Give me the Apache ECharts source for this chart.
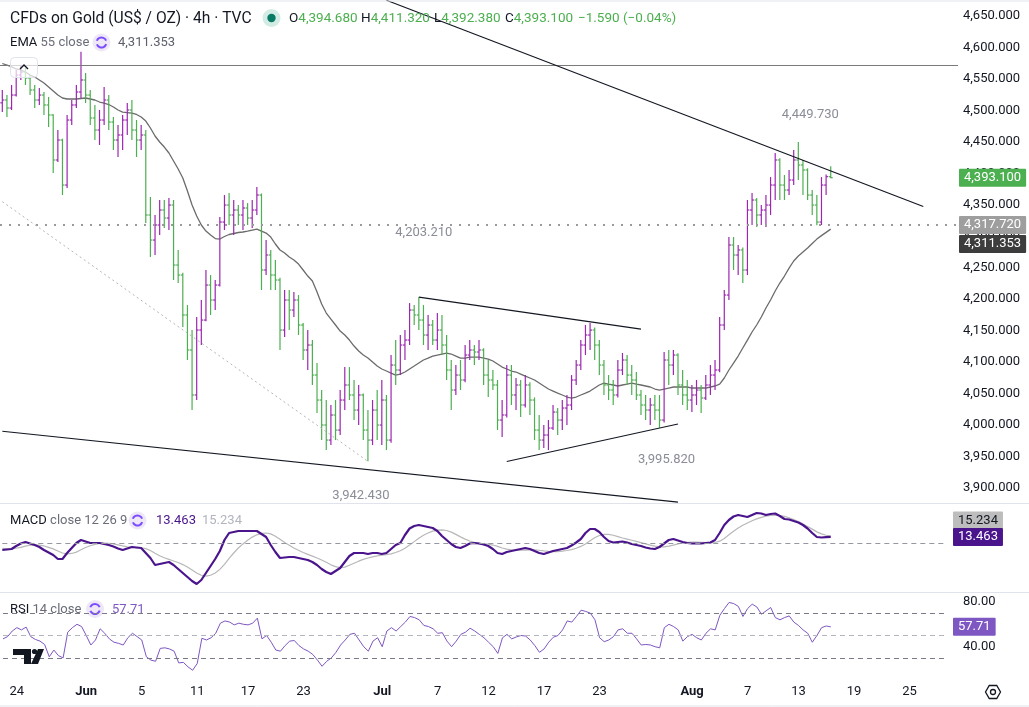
<!DOCTYPE html>
<html>
<head>
<meta charset="utf-8">
<script src="https://cdn.jsdelivr.net/npm/echarts@6/dist/echarts.min.js"></script>
<style>
html, body { margin: 0; padding: 0; background: #fff; }
#chart { width: 1029px; height: 707px; }
</style>
</head>
<body>
<div id="chart"></div>
<script>
// 4h bars: [open, high, low, close]
var bars = [
  [4512.0,4532.4,4497.4,4516.5],[4516.5,4524.4,4489.5,4503.8],[4503.8,4540.3,4500.6,4524.4],[4524.4,4564.2,4522.0,4556.2],
  [4556.2,4572.1,4548.3,4561.0],[4561.0,4567.4,4540.3,4551.5],[4551.5,4556.2,4524.4,4532.4],[4532.4,4540.3,4503.8,4516.5],
  [4516.5,4535.6,4508.6,4524.4],[4524.4,4529.2,4492.7,4508.6],[4508.6,4521.3,4473.6,4492.7],[4492.7,4494.0,4400.5,4421.2],
  [4421.2,4468.8,4418.0,4452.9],[4452.9,4455.0,4365.5,4381.4],[4381.4,4492.7,4376.7,4484.7],[4484.7,4516.5,4476.8,4508.6],
  [4508.6,4540.3,4503.8,4529.2],[4529.2,4593.0,4519.7,4548.3],[4548.3,4559.4,4511.7,4524.4],[4524.4,4532.4,4476.8,4487.9],
  [4487.9,4508.6,4452.9,4468.8],[4468.8,4500.6,4445.0,4484.7],[4484.7,4537.2,4476.8,4516.5],[4516.5,4524.4,4468.8,4481.5],
  [4481.5,4489.5,4437.0,4452.9],[4452.9,4476.8,4425.9,4460.9],[4460.9,4492.7,4437.0,4484.7],[4484.7,4511.7,4460.9,4500.6],
  [4500.6,4516.5,4452.9,4468.8],[4468.8,4484.7,4425.9,4452.9],[4452.9,4476.8,4437.0,4460.9],[4460.9,4468.8,4321.0,4333.8],
  [4333.8,4362.4,4267.0,4294.0],[4294.0,4333.8,4270.2,4317.9],[4317.9,4357.6,4302.0,4341.7],[4341.7,4357.6,4313.1,4329.0],
  [4329.0,4360.8,4309.9,4349.6],[4349.6,4357.6,4230.5,4254.3],[4254.3,4278.2,4225.7,4238.4],[4238.4,4242.0,4155.8,4174.9],
  [4174.9,4190.7,4103.4,4119.3],[4119.3,4151.0,4023.9,4047.8],[4047.8,4171.7,4039.8,4151.0],[4151.0,4198.7,4127.2,4166.9],
  [4166.9,4246.4,4165.0,4222.5],[4222.5,4238.4,4174.9,4198.7],[4198.7,4230.5,4182.8,4222.5],[4222.5,4330.6,4220.0,4322.6],
  [4322.6,4365.5,4309.9,4349.6],[4349.6,4368.7,4317.9,4333.8],[4333.8,4357.6,4302.0,4341.7],[4341.7,4349.6,4317.9,4333.8],
  [4333.8,4357.6,4309.9,4344.9],[4344.9,4352.8,4317.9,4329.0],[4329.0,4357.6,4313.1,4341.7],[4341.7,4378.3,4333.8,4365.5],
  [4365.5,4368.0,4214.6,4246.4],[4246.4,4294.0,4238.4,4270.2],[4270.2,4278.2,4214.6,4238.4],[4238.4,4262.3,4214.6,4230.5],
  [4230.5,4234.0,4119.3,4151.0],[4151.0,4214.6,4139.9,4198.7],[4198.7,4214.6,4151.0,4182.8],[4182.8,4211.4,4171.7,4198.7],
  [4198.7,4206.6,4143.1,4159.0],[4159.0,4162.1,4103.4,4119.3],[4119.3,4151.0,4087.5,4127.2],[4127.2,4135.1,4063.7,4079.5],
  [4079.5,4098.6,4019.1,4039.8],[4039.8,4055.7,3976.2,4000.1],[4000.1,4039.8,3960.3,3976.2],[3976.2,4031.9,3968.2,4016.0],
  [4016.0,4039.8,3976.2,3992.1],[3992.1,4055.7,3984.2,4039.8],[4039.8,4092.2,4023.9,4063.7],[4063.7,4092.2,4039.8,4047.8],
  [4047.8,4071.6,4008.0,4023.9],[4023.9,4063.7,4000.1,4047.8],[4047.8,4050.0,3976.2,3992.1],[3992.1,4023.9,3942.4,3976.2],
  [3976.2,4039.8,3968.2,4023.9],[4023.9,4055.7,3976.2,4000.1],[4000.1,4071.6,3968.2,4039.8],[4039.8,4047.8,3960.3,3976.2],
  [3976.2,4111.3,3972.0,4095.4],[4095.4,4135.1,4063.7,4087.5],[4087.5,4143.1,4079.5,4127.2],[4127.2,4151.0,4103.4,4135.1],
  [4135.1,4193.9,4127.2,4182.8],[4182.8,4190.7,4159.0,4174.9],[4174.9,4203.2,4151.0,4166.9],[4166.9,4190.7,4127.2,4143.1],
  [4143.1,4174.9,4119.3,4159.0],[4159.0,4166.9,4127.2,4135.1],[4135.1,4178.0,4119.3,4151.0],[4151.0,4174.9,4111.3,4127.2],
  [4127.2,4143.1,4071.6,4087.5],[4087.5,4103.4,4023.9,4055.7],[4055.7,4095.4,4047.8,4079.5],[4079.5,4103.4,4055.7,4071.6],
  [4071.6,4127.2,4068.0,4111.3],[4111.3,4135.1,4103.4,4119.3],[4119.3,4127.2,4095.4,4116.1],[4116.1,4135.1,4103.4,4119.3],
  [4119.3,4122.0,4063.7,4079.5],[4079.5,4103.4,4044.6,4071.6],[4071.6,4087.5,4055.7,4063.7],[4063.7,4071.6,3992.1,4008.0],
  [4008.0,4039.8,3981.0,4016.0],[4016.0,4095.4,4012.0,4079.5],[4079.5,4095.4,4031.9,4047.8],[4047.8,4074.8,4023.9,4063.7],
  [4063.7,4071.6,4012.8,4031.9],[4031.9,4079.5,4028.0,4063.7],[4063.7,4068.0,4016.0,4039.8],[4039.8,4044.0,3976.2,3992.1],
  [3992.1,4016.0,3960.3,3976.2],[3976.2,4000.1,3963.5,3984.2],[3984.2,4008.0,3960.3,3995.3],[3995.3,4031.9,3992.1,4020.7],
  [4020.7,4027.1,3984.2,4008.0],[4008.0,4039.8,3992.1,4027.1],[4027.1,4047.8,4000.1,4031.9],[4031.9,4079.5,4023.9,4071.6],
  [4071.6,4103.4,4063.7,4095.4],[4095.4,4135.1,4087.5,4127.2],[4127.2,4159.0,4111.3,4143.1],[4143.1,4162.1,4119.3,4151.0],
  [4151.0,4155.0,4103.4,4127.2],[4127.2,4135.1,4079.5,4095.4],[4095.4,4103.4,4047.8,4063.7],[4063.7,4079.5,4039.8,4055.7],
  [4055.7,4071.6,4031.9,4047.8],[4047.8,4103.4,4044.0,4087.5],[4087.5,4114.5,4079.5,4103.4],[4103.4,4111.3,4063.7,4079.5],
  [4079.5,4095.4,4047.8,4071.6],[4071.6,4084.3,4039.8,4047.8],[4047.8,4055.7,4016.0,4031.9],[4031.9,4047.8,4008.0,4023.9],
  [4023.9,4043.0,4000.1,4031.9],[4031.9,4047.8,4008.0,4023.9],[4023.9,4047.8,3995.8,4008.0],[4008.0,4116.1,4004.0,4103.4],
  [4103.4,4119.3,4063.7,4095.4],[4095.4,4119.3,4079.5,4111.3],[4111.3,4114.0,4047.8,4063.7],[4063.7,4087.5,4031.9,4047.8],
  [4047.8,4071.6,4023.9,4039.8],[4039.8,4063.7,4020.7,4047.8],[4047.8,4071.6,4031.9,4055.7],[4055.7,4063.7,4019.1,4043.0],
  [4043.0,4079.5,4039.8,4063.7],[4063.7,4095.4,4047.8,4079.5],[4079.5,4103.4,4055.7,4087.5],[4087.5,4171.7,4084.0,4159.0],
  [4159.0,4214.6,4151.0,4206.6],[4206.6,4298.8,4198.7,4286.1],[4286.1,4298.8,4246.4,4270.2],[4270.2,4286.1,4238.4,4278.2],
  [4278.2,4282.0,4225.7,4246.4],[4246.4,4357.6,4238.4,4341.7],[4341.7,4368.7,4317.9,4357.6],[4357.6,4361.0,4314.7,4333.8],
  [4333.8,4349.6,4317.9,4341.7],[4341.7,4365.5,4314.7,4349.6],[4349.6,4394.1,4333.8,4381.4],[4381.4,4432.3,4357.6,4421.2],
  [4421.2,4424.0,4357.6,4381.4],[4381.4,4397.3,4357.6,4373.5],[4373.5,4405.3,4365.5,4389.4],[4389.4,4437.0,4381.4,4421.2],
  [4421.2,4449.7,4389.4,4413.2],[4413.2,4421.2,4365.5,4405.3],[4405.3,4408.0,4357.6,4365.5],[4365.5,4373.5,4333.8,4349.6],
  [4349.6,4365.5,4317.7,4322.6],[4322.6,4394.1,4317.9,4381.4],[4381.4,4398.0,4365.5,4394.7],[4394.68,4411.32,4392.38,4393.1]
];

var ema55 = [
  4574.5,4572.1,4569.0,4565.8,4564.2,4561.0,4556.2,4553.0,4548.3,4543.5,
  4537.2,4530.8,4524.4,4519.7,4518.1,4518.1,4518.1,4518.9,4519.7,4518.1,
  4516.5,4513.3,4511.7,4509.3,4505.4,4500.6,4497.4,4496.6,4495.8,4493.5,
  4489.5,4483.1,4472.0,4459.3,4449.8,4441.8,4432.3,4419.6,4406.9,4392.6,
  4371.9,4349.6,4332.2,4317.9,4308.3,4302.0,4296.4,4295.6,4299.6,4302.8,
  4304.4,4306.0,4306.8,4308.3,4309.9,4311.5,4308.3,4305.1,4298.8,4287.7,
  4278.2,4273.4,4267.0,4262.3,4255.9,4246.4,4236.8,4228.9,4211.4,4192.3,
  4178.0,4168.5,4159.0,4149.4,4143.1,4135.1,4125.6,4117.7,4111.3,4106.5,
  4100.2,4093.8,4089.1,4085.9,4082.7,4079.5,4081.1,4084.3,4089.1,4093.8,
  4098.6,4103.4,4106.5,4109.7,4111.3,4112.9,4114.5,4112.9,4109.7,4106.5,
  4106.5,4108.1,4108.1,4108.1,4106.5,4104.9,4101.8,4097.0,4092.2,4089.1,
  4085.9,4084.3,4081.1,4077.9,4074.8,4071.6,4066.8,4062.0,4057.3,4054.1,
  4050.9,4047.8,4044.6,4043.0,4044.6,4047.8,4050.9,4054.1,4058.9,4063.7,
  4066.8,4065.2,4063.7,4062.1,4063.7,4065.2,4066.8,4065.2,4063.7,4062.1,
  4060.5,4057.3,4055.7,4057.3,4058.9,4060.5,4060.5,4060.5,4060.5,4058.9,
  4058.9,4058.9,4058.9,4060.5,4062.1,4065.2,4074.8,4087.5,4098.6,4109.7,
  4122.4,4135.1,4147.9,4159.0,4171.7,4186.0,4198.7,4213.0,4225.7,4236.8,
  4249.5,4260.7,4268.6,4275.0,4281.3,4288.5,4295.5,4301.0,4306.2,4311.353
];

var macd = [
  -15.4,-14.3,-13.2,-6.6,-1.1,2.2,-1.1,-4.4,-8.8,-15.4,
  -20.9,-26.4,-35.2,-35.2,-22,-11,0,6.6,3.3,0,
  0,0,-2.2,-4.4,-7.7,-12.1,-15.4,-12.1,-8.8,-9.9,
  -11,-22,-33,-48.4,-46.2,-44,-41.8,-48.4,-57.2,-66,
  -74.8,-83.6,-90.2,-81.4,-66,-50.6,-35.2,-17.6,6.6,22,
  24.2,26.4,26.4,26.4,26.4,26.4,19.8,13.2,-4.4,-19.8,
  -33,-31.9,-30.8,-30.8,-33,-35.2,-37.4,-41.8,-48.4,-57.2,
  -63.8,-68.2,-61.6,-55,-41.8,-28.6,-22,-22,-22,-24.2,
  -22,-22,-24.2,-22,-13.2,-4.4,0,17.6,31.9,37.4,
  39.6,37.4,35.2,33,26.4,15.4,6.6,-2.2,-8.8,-11,
  -6.6,-1.1,0,-1.1,-3.3,-6.6,-13.2,-22,-24.2,-19.8,
  -17.6,-15.4,-13.2,-11,-13.2,-17.6,-22,-24.2,-20.9,-17.6,
  -15.4,-13.2,-11,-5.5,1.1,8.8,22,30.8,30.8,24.2,
  13.2,4.4,1.1,2.2,3.3,1.1,-2.2,-4.4,-6.6,-9.9,
  -12.1,-13.2,-8.8,-1.1,6.6,8.8,5.5,2.2,0,-1.1,
  -1.1,-1.1,0,1.1,6.6,22,39.6,50.6,58.3,61.6,
  59.4,57.2,61.6,66,64.9,61.6,63.8,64.9,59.4,52.8,
  51.7,48.4,45.1,39.6,31.9,22,13.2,12.1,12.8,13.463
];

var signal = [
  -12,-12.5,-12.8,-11.5,-9.5,-7,-5,-4,-4.5,-6.5,
  -9.5,-13,-17.5,-22,-24,-23,-20,-15,-10,-6,
  -3,-1,0,-0.5,-2,-4,-6.5,-8.5,-9.5,-10,
  -10.5,-12.5,-16.5,-22.5,-28,-32.5,-36,-39.5,-43,-47.5,
  -53,-59.5,-66,-71,-73,-71,-66,-58,-47,-34,
  -22,-11,-2,6,13,18,21,22,20,15,
  8,1,-5,-11,-16,-21,-25,-29,-33,-37.5,
  -42.5,-48,-52,-54,-53,-49,-44.5,-40,-36,-33,
  -30.5,-28.5,-27,-25.5,-24,-21,-17,-11.5,-4.5,3,
  10.5,17,22,26,28.5,29,27.5,24,19,13.5,
  8.5,4.5,1.5,-0.5,-1.5,-2.5,-4.5,-7.5,-11,-13.5,
  -15,-16,-16,-15.5,-15,-15,-16,-17.5,-18.5,-19,
  -19,-18,-16.5,-14.5,-11.5,-7.5,-2,5,11.5,16.5,
  19,19,17,14,11,8.5,6,3.5,1,-2,
  -4.5,-7,-8.5,-8.5,-7,-4.5,-2,0,1.5,2,
  2,1.5,1,0.5,1,4,10,18,26,33,
  39,44,49,53,56.5,59,60.5,61,60.5,58.5,
  55.5,51.5,47,42,36.5,30.5,24.5,20,17,15.234
];

var rsi = [
  47,49,54,57,55,57.5,49,46.5,45,42,
  31,37,32,30,53,57,60,58,50,41.5,
  46,56,52,47,44,43,41.5,48,52,49,
  46,31,28,27,38.5,39,38,36,25.5,26,
  22,19,25,47.5,46,48,52,61,63,62,
  59.5,61,60,59.5,61,65.5,47,50,44,37,
  36,41,45,45.5,41,38,36,33,28,22.5,
  27,30,35,41.5,46,51,52,46,40,36,
  45,48,40,54,57,54,58,62,67,66,
  64,59,58,56,52,52.5,45,40,45,51,
  53,56.5,54,51,48,44,40,34,48,51,
  47,48.7,50,49.5,46,41,35,38,44,48.5,
  50,55,63,62,67,72.6,71.5,70,64,48,
  44.5,46,49,55,56,52,52,47,41.5,42,
  41.5,40,39,57,60,58,55,45,49,51,
  48,46,52,56,55,68,74,79.5,78.5,76,
  67,74,78,75.5,69,72,75,66,64,66,
  67.5,62,59,55,52,44,50,57,58.5,57.71
];

// time scale: bar slots including the empty future part, and the date ticks
var slotCount = 207;
var tickIdx = [3, 18, 30, 42, 53, 65, 82, 94, 105, 117, 129, 149, 161, 172, 184, 196];
var tickText = ['24', 'Jun', '5', '11', '17', '23', 'Jul', '7', '12', '17', '23', 'Aug', '7', '13', '19', '25'];
// price scale labels
var priceTicks = [3900, 3950, 4000, 4050, 4100, 4150, 4200, 4250, 4300, 4350, 4400, 4450, 4500, 4550, 4600, 4650];
var rsiTicks = [40, 80];

// last bar readout
var lastOHLC = [['O', '4,394.680'], ['H', '4,411.320'], ['L', '4,392.380'], ['C', '4,393.100']];
var lastChange = '\u22121.590 (\u22120.04%)';

// drawn trend lines [fromIdx, fromPrice, toIdx, toPrice]
var trendLines = [[83, 4674.9, 199, 4347.3], [0, 3990.2, 146, 3877.7], [90, 4203.2, 138, 4152.4], [109, 3942.1, 146, 4001.7]];
var dottedTrend = [0, 4355.0, 79, 3942.4];
var resistance = 4572;
var supportLevel = 4317.72;

// high / low notes [barIdx, price, text]
var notes = [[172, 4449.73, '4,449.730'], [90, 4203.21, '4,203.210'], [142, 3995.82, '3,995.820'], [79, 3942.43, '3,942.430']];
var noteShift = [[12, -27], [5, -64], [7, 32], [-7, 34]];

var F = 'Roboto, "Noto Sans", sans-serif';
var upColor = '#9c27b0', downColor = '#4caf50';

var slots = [];
for (var s = 0; s < slotCount; s++) slots.push(String(s));
var tickMap = {};
tickIdx.forEach(function (k, j) { tickMap[k] = tickText[j]; });

var ohlcData = bars.map(function (b, i) { return [i, b[0], b[1], b[2], b[3]]; });

function fmt(v, d) {
    var p = v.toFixed(d).split('.');
    p[0] = p[0].replace(/\B(?=(\d{3})+(?!\d))/g, ',');
    return p.join('.');
}

function renderBar(params, api) {
    var i = api.value(0);
    var o = api.coord([i, api.value(1)]);
    var h = api.coord([i, api.value(2)]);
    var l = api.coord([i, api.value(3)]);
    var c = api.coord([i, api.value(4)]);
    var col = api.value(4) >= api.value(1) ? upColor : downColor;
    var st = {stroke: col, lineWidth: 1.2};
    return {
        type: 'group',
        children: [
            {type: 'line', shape: {x1: h[0], y1: h[1], x2: l[0], y2: l[1]}, style: st},
            {type: 'line', shape: {x1: o[0] - 2, y1: o[1], x2: o[0], y2: o[1]}, style: st},
            {type: 'line', shape: {x1: c[0], y1: c[1], x2: c[0] + 2, y2: c[1]}, style: st}
        ]
    };
}

function segLine(a, style) {
    return [{coord: [a[0], a[1]], lineStyle: style}, {coord: [a[2], a[3]]}];
}

var blackLine = {color: '#131722', width: 1.2, type: 'solid'};
var priceMarks = [
    {yAxis: resistance, lineStyle: {color: '#7a7a7a', width: 1, type: 'solid'}},
    {yAxis: supportLevel, lineStyle: {color: '#9a9a9a', width: 2, type: [2, 7]}},
    segLine(dottedTrend, {color: '#b5b5b5', width: 1, type: [2, 3]})
];
trendLines.forEach(function (t) { priceMarks.push(segLine(t, blackLine)); });

var hiddenX = function (g) {
    return {type: 'category', gridIndex: g, data: slots, boundaryGap: true,
        axisLine: {show: false}, axisTick: {show: false}, axisLabel: {show: false}, splitLine: {show: false}};
};
var xBottom = hiddenX(2);
xBottom.axisLabel = {
    show: true, interval: 0, margin: 8, fontSize: 13, fontFamily: F, color: '#131722',
    formatter: function (v, idx) {
        var t = tickMap[idx];
        if (!t) return '';
        return /[A-Za-z]/.test(t) ? '{m|' + t + '}' : t;
    },
    rich: {m: {fontSize: 13, fontFamily: F, fontWeight: 'bold', color: '#131722'}}
};

var option = {
    animation: false,
    backgroundColor: '#ffffff',
    grid: [
        {left: 0, right: 71, top: 0, height: 503},
        {left: 0, right: 71, top: 504, height: 88},
        {left: 0, right: 71, top: 593, height: 84}
    ],
    xAxis: [hiddenX(0), hiddenX(1), xBottom],
    yAxis: [
        {
            gridIndex: 0, type: 'value', position: 'right', min: 3876.2, max: 4675.4,
            axisLine: {show: false}, axisTick: {show: false}, splitLine: {show: false},
            axisLabel: {
                margin: 5, fontSize: 13, fontFamily: F, color: '#131722',
                customValues: priceTicks,
                formatter: function (v) { return fmt(v, 3); }
            }
        },
        {gridIndex: 1, type: 'value', min: -107.8, max: 85.8, show: false, splitLine: {show: false}},
        {gridIndex: 2, type: 'value', min: 12.95, max: 87.95, show: false, splitLine: {show: false}}
    ],
    series: [
        {
            name: 'EMA 55', type: 'line', xAxisIndex: 0, yAxisIndex: 0, data: ema55,
            symbol: 'none', lineStyle: {color: '#6b6b6b', width: 1.3}, z: 2,
            markLine: {silent: true, symbol: ['none', 'none'], label: {show: false}, animation: false, data: priceMarks}
        },
        {
            name: 'Gold', type: 'custom', xAxisIndex: 0, yAxisIndex: 0, renderItem: renderBar,
            data: ohlcData, encode: {x: 0, y: [1, 2, 3, 4]}, z: 3
        },
        {
            name: 'Signal', type: 'line', xAxisIndex: 1, yAxisIndex: 1, data: signal,
            symbol: 'none', lineStyle: {color: '#b8b8b8', width: 1.2}, z: 2,
            markLine: {silent: true, symbol: ['none', 'none'], label: {show: false}, animation: false,
                data: [segLine([0, 0, 204, 0], {color: '#9598a1', width: 1, type: [5, 4]})]}
        },
        {
            name: 'MACD', type: 'line', xAxisIndex: 1, yAxisIndex: 1, data: macd,
            symbol: 'none', lineStyle: {color: '#4a148c', width: 2.2}, z: 3
        },
        {
            name: 'RSI', type: 'line', xAxisIndex: 2, yAxisIndex: 2, data: rsi,
            symbol: 'none', lineStyle: {color: '#7e57c2', width: 1}, z: 3,
            markLine: {silent: true, symbol: ['none', 'none'], label: {show: false}, animation: false,
                data: [
                    segLine([0, 70, 204, 70], {color: '#787b86', width: 1, type: [5, 4]}),
                    segLine([0, 50, 204, 50], {color: '#b2b5be', width: 1, type: [5, 4]}),
                    segLine([0, 30, 204, 30], {color: '#787b86', width: 1, type: [5, 4]})
                ]}
        }
    ]
};

var chart = echarts.init(document.getElementById('chart'));
chart.setOption(option);

// ---- overlay: legends, scale tags, notes ----
function refreshIcon(cx, cy) {
    return [
        {type: 'circle', shape: {cx: cx, cy: cy, r: 9}, style: {fill: '#ede7f6'}},
        {type: 'arc', shape: {cx: cx, cy: cy, r: 5, startAngle: 3.5, endAngle: 5.9}, style: {stroke: '#7c4dff', lineWidth: 2, fill: null}},
        {type: 'arc', shape: {cx: cx, cy: cy, r: 5, startAngle: 0.35, endAngle: 2.75}, style: {stroke: '#7c4dff', lineWidth: 2, fill: null}}
    ];
}
function txt(x, y, text, fill, size, extra) {
    var st = {text: text, fill: fill, fontSize: size || 13, fontFamily: F, verticalAlign: 'middle'};
    if (extra) for (var k in extra) st[k] = extra[k];
    return {type: 'text', x: x, y: y, z: 60, style: st};
}
var legendRich = {d: {fill: '#131722', fontSize: 13, fontFamily: F}, b: {fill: '#6a6d78', fontSize: 13, fontFamily: F}};

var gfx = [];
// pane separators and frame
[1, 503.5, 592.5, 706].forEach(function (yy) {
    gfx.push({type: 'line', shape: {x1: 0, y1: yy, x2: 1029, y2: yy}, style: {stroke: '#e0e3eb', lineWidth: 1}, z: 40});
});
// header
gfx.push(txt(10, 19, 'CFDs on Gold (US$ / OZ) · 4h · TVC', '#131722', 15.6));
gfx.push({type: 'circle', shape: {cx: 271.5, cy: 18, r: 9}, style: {fill: '#d3ebe5'}, z: 60});
gfx.push({type: 'circle', shape: {cx: 271.5, cy: 18, r: 4.2}, style: {fill: '#087a63'}, z: 61});
var ohlcX = [289, 361, 434, 505];
lastOHLC.forEach(function (q, j) {
    gfx.push(txt(ohlcX[j], 19, '{d|' + q[0] + '}{g|' + q[1] + '}', '#131722', 13, {
        rich: {d: {fill: '#131722', fontSize: 13.5, fontFamily: F}, g: {fill: '#4caf50', fontSize: 13.5, fontFamily: F}}
    }));
});
gfx.push(txt(578, 19, lastChange, '#4caf50', 13.5));

gfx.push(txt(10, 43, '{d|EMA} {b|55 close}', '#131722', 13, {rich: legendRich}));
gfx = gfx.concat(refreshIcon(101.5, 42.5));
gfx.push(txt(118, 43, '4,311.353', '#5d606b', 13));
gfx.push(txt(10, 521, '{d|MACD} {b|close 12 26 9}', '#131722', 13, {rich: legendRich}));
gfx = gfx.concat(refreshIcon(137.5, 520.5));
gfx.push(txt(156, 521, '13.463', '#4a148c', 13));
gfx.push(txt(202, 521, '15.234', '#b2b5be', 13));
gfx.push(txt(10, 609.5, '{d|RSI} {b|14 close}', '#131722', 13, {rich: legendRich}));
gfx = gfx.concat(refreshIcon(95, 609));
gfx.push(txt(112, 609.5, '57.71', '#7e57c2', 13));

// collapse button
gfx.push({type: 'rect', shape: {x: 10.5, y: 57.5, width: 27, height: 20, r: 4}, style: {fill: 'rgba(255,255,255,0.7)', stroke: '#e0e3eb', lineWidth: 1}, z: 60});
gfx.push({type: 'polyline', shape: {points: [[20, 69], [24, 65], [28, 69]]}, style: {stroke: '#131722', lineWidth: 1.4, fill: null}, z: 61});

// logo
gfx.push({type: 'rect', shape: {x: 13, y: 649, width: 18, height: 6}, style: {fill: '#131722'}, z: 60});
gfx.push({type: 'rect', shape: {x: 24, y: 649, width: 7, height: 15}, style: {fill: '#131722'}, z: 60});
gfx.push({type: 'circle', shape: {cx: 34.5, cy: 651.5, r: 2.6}, style: {fill: '#131722'}, z: 60});
gfx.push({type: 'polygon', shape: {points: [[38, 649], [44, 649], [38, 664], [31, 664]]}, style: {fill: '#131722'}, z: 60});

// settings gear
var hex = [];
for (var a = 0; a < 6; a++) hex.push([993 + 7.5 * Math.cos(a * Math.PI / 3), 692 + 7.5 * Math.sin(a * Math.PI / 3)]);
gfx.push({type: 'polygon', shape: {points: hex}, style: {fill: null, stroke: '#131722', lineWidth: 1.3}, z: 60});
gfx.push({type: 'circle', shape: {cx: 993, cy: 692, r: 2.5}, style: {fill: null, stroke: '#131722', lineWidth: 1.3}, z: 60});

// scale tags [grid, value, text, bg, fg, left, shiftY]
var tags = [
    [0, 4393.1, '4,393.100', '#4caf50', '#ffffff', 959, 0],
    [0, 4317.72, '4,317.720', '#9e9e9e', '#ffffff', 959, 0],
    [0, 4311.353, '4,311.353', '#3d3d3d', '#ffffff', 959, 15],
    [1, 15.234, '15.234', '#bdbdbd', '#131722', 953, -15.5],
    [1, 13.463, '13.463', '#4a148c', '#ffffff', 953, 0],
    [2, 57.71, '57.71', '#7e57c2', '#ffffff', 953, 0]
];
tags.forEach(function (t) {
    var y = chart.convertToPixel({gridIndex: t[0]}, [0, t[1]])[1] + t[6];
    gfx.push({type: 'text', x: t[5], y: y, z: 70, style: {
        text: t[2], fill: t[4], fontSize: 13, fontFamily: F, verticalAlign: 'middle',
        backgroundColor: t[3], padding: [3, 5, 2, 5], borderRadius: 1
    }});
});
// RSI scale marks
rsiTicks.forEach(function (v) {
    var y = chart.convertToPixel({gridIndex: 2}, [0, v])[1];
    gfx.push(txt(963, y, fmt(v, 2), '#131722', 13));
});
// notes
notes.forEach(function (n, j) {
    var p = chart.convertToPixel({gridIndex: 0}, [n[0], n[1]]);
    gfx.push(txt(p[0] + noteShift[j][0], p[1] + noteShift[j][1], n[2], '#8a8d96', 13, {align: 'center'}));
});

chart.setOption({graphic: gfx});
</script>
</body>
</html>
